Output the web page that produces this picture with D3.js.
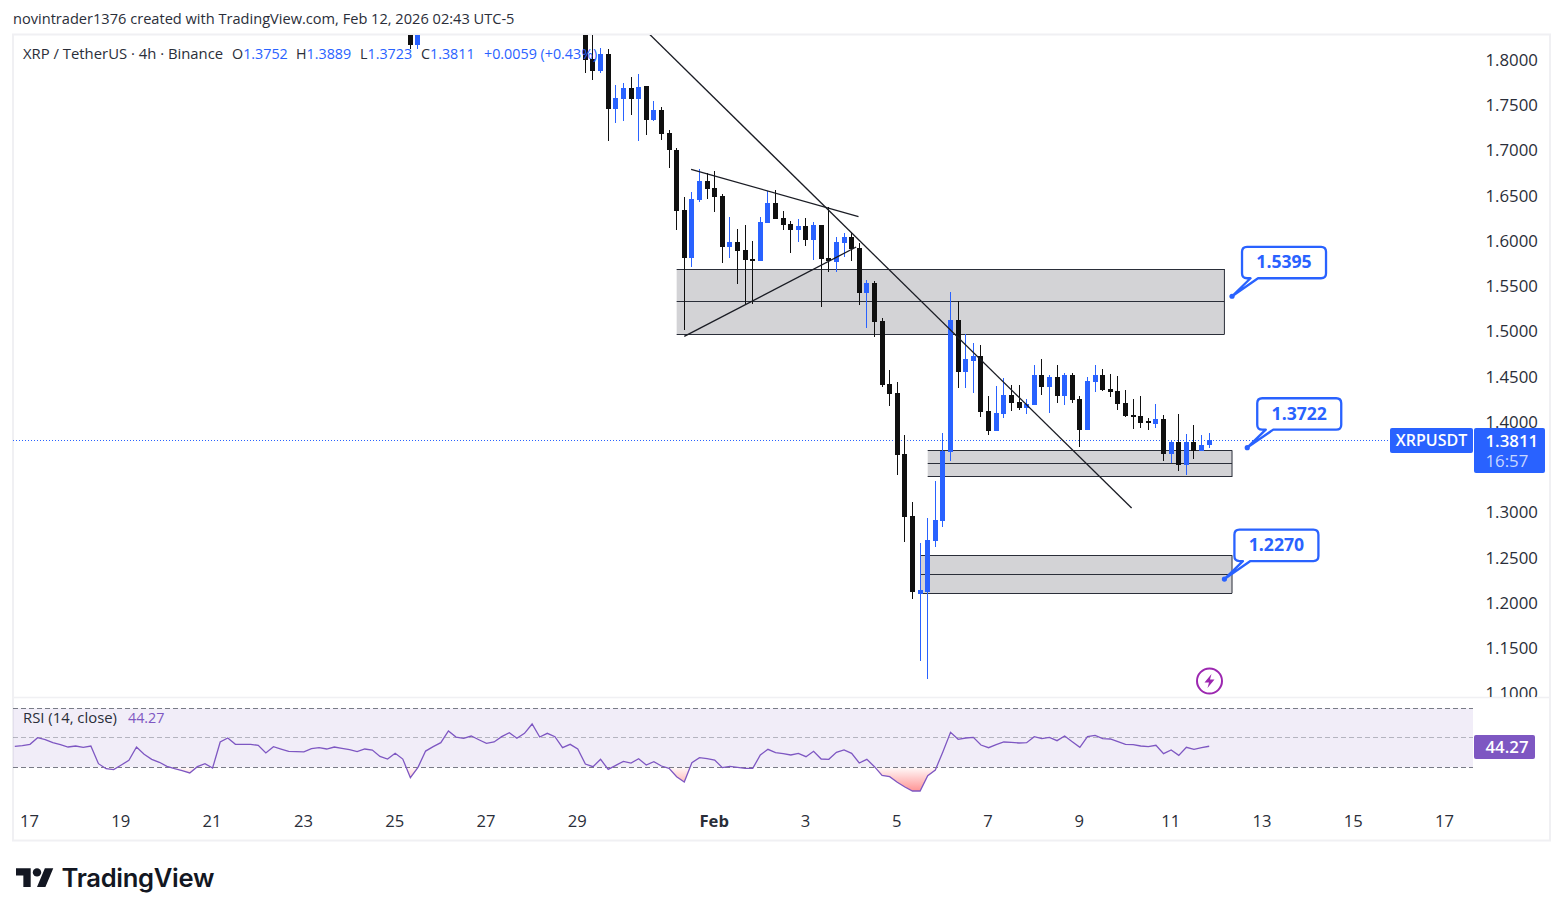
<!DOCTYPE html>
<html>
<head>
<meta charset="utf-8">
<title>XRPUSDT 4h</title>
<script src="https://cdnjs.cloudflare.com/ajax/libs/d3/7.9.0/d3.min.js"></script>
<style>
html,body{margin:0;padding:0;background:#fff;}
svg{display:block;}
text{font-family:"Open Sans","Noto Sans",sans-serif;}
</style>
</head>
<body>
<svg id="chart" width="1563" height="916"></svg>
<script>
// Bars are numbered in 4h steps from Jan 17 00:00; two short runs are on screen.
const barNumbers = [50, 51].concat(d3.range(73, 156));
const opens = [1.8450,1.8175,
1.8400,1.8017,1.7884,1.8072,1.7464,1.7575,1.7696,1.7575,1.7718,1.7343,1.7453,1.7199,1.7011,1.6348,1.5821,1.6459,1.6669,1.6591,1.6503,1.5939,1.5995,1.5906,1.5807,1.5785,1.6205,1.6425,1.6260,1.6193,1.6127,1.6171,1.6017,1.6182,1.5818,1.5774,1.5984,1.6050,1.5928,1.5431,1.5541,1.5121,1.4425,1.4326,1.3652,1.2967,1.2105,1.2127,1.2691,1.2912,1.3674,1.5133,1.4558,1.4680,1.4735,1.4127,1.3906,1.4094,1.4304,1.4226,1.4160,1.4193,1.4525,1.4392,1.4503,1.4293,1.4525,1.4260,1.3917,1.4448,1.4525,1.4370,1.4348,1.4215,1.4083,1.4072,1.4016,1.3983,1.4039,1.3652,1.3785,1.3530,1.3785,1.3685,1.3752];
const highs = [1.8500,1.8460,
1.8450,1.8350,1.8138,1.8127,1.7729,1.7751,1.7818,1.7851,1.7718,1.7552,1.7486,1.7232,1.7033,1.6492,1.6547,1.6801,1.6757,1.6779,1.6525,1.6271,1.6138,1.6182,1.6006,1.6271,1.6558,1.6569,1.6337,1.6226,1.6249,1.6260,1.6215,1.6182,1.6381,1.6050,1.6094,1.6105,1.5983,1.5575,1.5564,1.5155,1.4580,1.4448,1.3862,1.3122,1.2669,1.2945,1.3354,1.3884,1.5442,1.5343,1.4978,1.4878,1.4856,1.4293,1.4403,1.4492,1.4414,1.4414,1.4260,1.4635,1.4702,1.4525,1.4635,1.4547,1.4547,1.4293,1.4503,1.4635,1.4591,1.4536,1.4514,1.4359,1.4260,1.4293,1.4050,1.4205,1.4083,1.3807,1.4094,1.3873,1.3972,1.3862,1.3889];
const lows = [1.8127,1.8127,
1.7865,1.7785,1.7865,1.7114,1.7313,1.7335,1.7398,1.7114,1.7177,1.7331,1.7121,1.6812,1.6127,1.5022,1.5722,1.6440,1.6473,1.6326,1.5762,1.5818,1.5530,1.5309,1.5309,1.5785,1.6205,1.6248,1.6127,1.5873,1.5995,1.5950,1.5796,1.5276,1.5663,1.5663,1.5829,1.5785,1.5298,1.5044,1.4945,1.4392,1.4182,1.3420,1.2680,1.2050,1.1364,1.1166,1.2624,1.2845,1.3575,1.4381,1.4381,1.4326,1.4061,1.3862,1.3906,1.4050,1.4127,1.4138,1.4094,1.4193,1.4304,1.4105,1.4215,1.4193,1.4215,1.3729,1.3917,1.4337,1.4348,1.4282,1.4138,1.4061,1.3928,1.3939,1.3917,1.3939,1.3575,1.3553,1.3464,1.3420,1.3597,1.3685,1.3723];
const closes = [1.8175,1.8420,
1.8011,1.7884,1.8072,1.7464,1.7586,1.7696,1.7575,1.7707,1.7343,1.7453,1.7188,1.7011,1.6340,1.5821,1.6470,1.6669,1.6580,1.6492,1.5939,1.5995,1.5895,1.5796,1.5785,1.6216,1.6425,1.6248,1.6182,1.6127,1.6171,1.6017,1.6182,1.5807,1.5785,1.5995,1.6050,1.5917,1.5431,1.5541,1.5110,1.4414,1.4315,1.3641,1.2959,1.2127,1.2149,1.2702,1.2923,1.3685,1.5133,1.4558,1.4702,1.4735,1.4116,1.3906,1.4105,1.4304,1.4215,1.4160,1.4205,1.4525,1.4392,1.4503,1.4293,1.4525,1.4249,1.3917,1.4459,1.4525,1.4359,1.4337,1.4205,1.4072,1.4072,1.3994,1.4005,1.4039,1.3652,1.3785,1.3530,1.3785,1.3685,1.3752,1.3811];

// RSI(14) per bar, beginning two bars before Jan 17.
const rsiStartBar = -2;
const rsiValues = [
44.2,44.67,45.57,50.1,48.74,46.7,45.35,43.76,44.44,43.54,44.44,32.46,29.07,28.4,31.56,34.7,43.76,38.8,35.4,33.4,30.66,29.07,27.7,26.14,30.43,32.46,29.5,47.15,49.87,45.57,45.57,45.57,44.9,39.7,44,42.4,40.8,40.6,40.4,42.6,43.3,42.4,43.76,42.86,41.96,40.6,42.4,41.7,37.4,35.6,39.47,35.6,22.97,30,41,44,46.7,54.6,50.5,49.6,51.2,48.7,46.25,47.15,
50.77,53.48,49.64,53.03,59.36,50.54,53.03,50.77,43.3,45.57,42.4,32.24,30.43,35.4,28.62,31.33,34.05,32.9,35.85,31.56,33.82,30.88,29.3,23.65,20.03,33.14,36.53,35.85,34.95,29.75,30.66,29.98,29.3,29.3,38.34,42.18,39.92,39.24,38.34,39.47,37.21,40.83,35.63,35.4,40.15,41.73,39.47,32.9,35.4,30.43,24.55,23.65,19.81,16.64,13.93,13.93,24.33,28.17,40.6,53.7,48.96,49.87,50.32,45.12,43.3,45.35,
47.15,46.93,46.48,46.7,50.77,49.41,50.32,48.06,51.22,47.38,43.54,50.77,51.67,49.41,49.19,47.38,45.57,45.35,44.44,43.99,44.9,39.24,41.73,38.11,43.54,42.18,43.3,44.27];

const priceTicks = [1.8,1.75,1.7,1.65,1.6,1.55,1.5,1.45,1.4,1.35,1.3,1.25,1.2,1.15,1.1];
const dateTickBars = [0,12,24,36,48,60,72,90,102,114,126,138,150,162,174,186];
const dateTickLabels = ["17","19","21","23","25","27","29","Feb","3","5","7","9","11","13","15","17"];

// Supply and demand zones: left bar, right bar, upper price, middle price, lower price
const zoneLeft = [85, 118, 117];
const zoneRight = [157, 158, 158];
const zoneUpper = [1.5696, 1.3693, 1.2533];
const zoneMiddle = [1.5338, 1.3546, 1.2323];
const zoneLower = [1.4974, 1.3398, 1.2113];

// Trend lines drawn by hand on the chart, as bar / price pairs.
const trendBars = [[81.4, 144.8], [86.9, 108.9], [86, 108.6]];
const trendPrices = [[1.8293, 1.3055], [1.6798, 1.6274], [1.4952, 1.5939]];

// Price callouts.
const calloutBars = [158, 160, 157];
const calloutPrices = [1.5395, 1.3722, 1.2270];

const lastPrice = 1.3811;
const lastRsi = 44.27;

const BLUE = "#2962ff", BLACK = "#101010", PURPLE = "#7e57c2", FRAME = "#f0f0f3";
const INK = "#2a2e39";
const AXIS_FONT = '"Open Sans","Noto Sans",sans-serif';

const svg = d3.select("#chart");
const x = d3.scaleLinear().domain([0, 155]).range([30, 1209.2]);
const y = d3.scaleLinear().domain([1.8, 1.1]).range([60.5, 694]);
const yRsi = d3.scaleLinear().domain([70, 30]).range([708.3, 767.3]);

const defs = svg.append("defs");
defs.append("clipPath").attr("id", "mainClip").append("rect")
  .attr("x", 13).attr("y", 35).attr("width", 1460).attr("height", 662);
defs.append("clipPath").attr("id", "axisClip").append("rect")
  .attr("x", 1474).attr("y", 35).attr("width", 75).attr("height", 662);
defs.append("clipPath").attr("id", "rsiClip").append("rect")
  .attr("x", 13).attr("y", 698).attr("width", 1460).attr("height", 100);
defs.append("clipPath").attr("id", "oversoldClip").append("rect")
  .attr("x", 13).attr("y", yRsi(30)).attr("width", 1460).attr("height", 40);
const grad = defs.append("linearGradient").attr("id", "oversoldFill")
  .attr("gradientUnits", "userSpaceOnUse")
  .attr("x1", 0).attr("x2", 0).attr("y1", yRsi(30)).attr("y2", yRsi(13));
grad.append("stop").attr("offset", 0).attr("stop-color", "#ff5252").attr("stop-opacity", 0.03);
grad.append("stop").attr("offset", 1).attr("stop-color", "#ff5252").attr("stop-opacity", 0.65);

// Title line
svg.append("text").attr("x", 13).attr("y", 24).attr("font-size", 14.6)
  .attr("fill", INK).text("novintrader1376 created with TradingView.com, Feb 12, 2026 02:43 UTC-5");

// Outer frame and pane divider
svg.append("rect").attr("x", 13).attr("y", 34.5).attr("width", 1537).attr("height", 806)
  .attr("fill", "none").attr("stroke", FRAME).attr("stroke-width", 2);
svg.append("line").attr("x1", 13).attr("x2", 1550).attr("y1", 697.5).attr("y2", 697.5)
  .attr("stroke", FRAME).attr("stroke-width", 1.5);

const main = svg.append("g").attr("clip-path", "url(#mainClip)");

// Zones
const zones = main.append("g").selectAll("g").data(zoneLeft.map((_, i) => i)).join("g");
zones.append("rect")
  .attr("x", i => x(zoneLeft[i]))
  .attr("y", i => y(zoneUpper[i]))
  .attr("width", i => x(zoneRight[i]) - x(zoneLeft[i]))
  .attr("height", i => y(zoneLower[i]) - y(zoneUpper[i]))
  .attr("fill", "#d3d3d6");
const zoneLine = (sel, a) => sel.append("line")
  .attr("x1", i => x(zoneLeft[i])).attr("x2", i => x(zoneRight[i]))
  .attr("y1", i => Math.floor(y(a[i])) + 0.5).attr("y2", i => Math.floor(y(a[i])) + 0.5)
  .attr("stroke", INK).attr("stroke-width", 1);
zoneLine(zones, zoneUpper);
zoneLine(zones, zoneMiddle);
zoneLine(zones, zoneLower);
zones.append("line")
  .attr("x1", i => x(zoneRight[i])).attr("x2", i => x(zoneRight[i]))
  .attr("y1", i => y(zoneUpper[i])).attr("y2", i => y(zoneLower[i]))
  .attr("stroke", INK).attr("stroke-width", 1);

// Dotted last price line
main.append("line").attr("x1", 13).attr("x2", 1390)
  .attr("y1", Math.round(y(lastPrice)) + 0.5).attr("y2", Math.round(y(lastPrice)) + 0.5)
  .attr("stroke", BLUE).attr("stroke-width", 1).attr("stroke-dasharray", "1,2");

// Candles
const candles = main.append("g").attr("shape-rendering", "crispEdges")
  .selectAll("g").data(barNumbers.map((_, i) => i)).join("g")
  .attr("fill", i => closes[i] >= opens[i] ? BLUE : BLACK);
candles.append("rect")
  .attr("x", i => Math.floor(x(barNumbers[i])))
  .attr("width", 1)
  .attr("y", i => y(highs[i]))
  .attr("height", i => y(lows[i]) - y(highs[i]));
candles.append("rect")
  .attr("x", i => Math.floor(x(barNumbers[i])) - 2)
  .attr("width", 5)
  .attr("y", i => Math.round(y(Math.max(opens[i], closes[i]))))
  .attr("height", i => Math.max(2, Math.round(y(Math.min(opens[i], closes[i]))) - Math.round(y(Math.max(opens[i], closes[i])))));

// Trend lines
main.append("g").selectAll("line").data(trendBars.map((_, i) => i)).join("line")
  .attr("x1", i => x(trendBars[i][0])).attr("x2", i => x(trendBars[i][1]))
  .attr("y1", i => y(trendPrices[i][0])).attr("y2", i => y(trendPrices[i][1]))
  .attr("stroke", "#1a1c24").attr("stroke-width", 1.3);

// Legend over the main pane
svg.append("text").attr("x", 23).attr("y", 59).attr("font-size", 14.85).attr("fill", INK)
  .text("XRP / TetherUS · 4h · Binance");
const legendParts = [["O", "1.3752", 232], ["H", "1.3889", 296], ["L", "1.3723", 360], ["C", "1.3811", 421]];
legendParts.forEach(([k, v, px]) => {
  const t = svg.append("text").attr("x", px).attr("y", 59).attr("font-size", 14.3).attr("fill", INK);
  t.append("tspan").text(k);
  t.append("tspan").attr("fill", BLUE).text(v);
});
svg.append("text").attr("x", 484).attr("y", 59).attr("font-size", 14.3).attr("fill", BLUE)
  .text("+0.0059 (+0.43%)");

// Callouts anchored at their price
const boxDx = 10, boxDy = -49.4, boxW = 84, boxH = 31.4, tailA = 8.5, tailB = 16, boxR = 5;
const callouts = svg.append("g").selectAll("g").data(calloutBars.map((_, i) => i)).join("g")
  .attr("transform", i => `translate(${x(calloutBars[i])},${y(calloutPrices[i])})`);
callouts.append("path")
  .attr("d", () => {
    const l = boxDx, t = boxDy, rr = boxDx + boxW, bt = boxDy + boxH, r = boxR;
    return `M${l + r},${t}H${rr - r}Q${rr},${t} ${rr},${t + r}V${bt - r}Q${rr},${bt} ${rr - r},${bt}` +
      `H${l + tailB}L0,0L${l + tailA},${bt}H${l + r}Q${l},${bt} ${l},${bt - r}V${t + r}Q${l},${t} ${l + r},${t}Z`;
  })
  .attr("fill", "#fff").attr("stroke", BLUE).attr("stroke-width", 2.3).attr("stroke-linejoin", "round");
callouts.append("circle").attr("r", 2.6).attr("fill", BLUE);
callouts.append("text")
  .attr("x", boxDx + boxW / 2)
  .attr("y", boxDy + 21.6)
  .attr("text-anchor", "middle").attr("font-size", 17.6).attr("font-weight", 700)
  .attr("fill", BLUE).text(i => calloutPrices[i].toFixed(4));

// Price axis
const priceAxis = svg.append("g").attr("clip-path", "url(#axisClip)").append("g")
  .attr("transform", "translate(1485.5,-0.5)")
  .call(d3.axisRight(y).tickValues(priceTicks).tickFormat(d3.format(".4f")).tickSize(0).tickPadding(0));
priceAxis.select(".domain").remove();
priceAxis.selectAll("text").attr("font-size", 16.8).attr("fill", INK)
  .style("font-family", AXIS_FONT);

// Last price tags
svg.append("rect").attr("x", 1390).attr("y", 428).attr("width", 83).attr("height", 25)
  .attr("rx", 2).attr("fill", BLUE);
svg.append("text").attr("x", 1431.5).attr("y", 446).attr("text-anchor", "middle")
  .attr("font-size", 16).attr("font-weight", 600).attr("fill", "#fff").text("XRPUSDT");
svg.append("rect").attr("x", 1474).attr("y", 428).attr("width", 71).attr("height", 45)
  .attr("rx", 2).attr("fill", BLUE);
svg.append("text").attr("x", 1485.5).attr("y", 446.5).attr("font-size", 16.8)
  .attr("font-weight", 600).attr("fill", "#fff").text(lastPrice.toFixed(4));
svg.append("text").attr("x", 1485.5).attr("y", 466.5).attr("font-size", 16.8)
  .attr("fill", "#fff").attr("fill-opacity", 0.75).text("16:57");

// Bolt badge
const bolt = svg.append("g").attr("transform", "translate(1209.5,681)");
bolt.append("circle").attr("r", 12.5).attr("fill", "#fff").attr("stroke", "#9c27b0").attr("stroke-width", 2);
bolt.append("path").attr("d", "M2,-7L-5,1.5H-0.5L-2,7L5,-1.5H0.5Z").attr("fill", "#9c27b0");

// RSI pane
const rsiPane = svg.append("g");
rsiPane.append("rect").attr("x", 13).attr("width", 1460)
  .attr("y", yRsi(70)).attr("height", yRsi(30) - yRsi(70)).attr("fill", PURPLE).attr("fill-opacity", 0.11);
[[70, 1], [50, 0.5], [30, 1]].forEach(([v, o]) => {
  rsiPane.append("line").attr("x1", 13).attr("x2", 1473)
    .attr("y1", Math.floor(yRsi(v)) + 0.5).attr("y2", Math.floor(yRsi(v)) + 0.5)
    .attr("stroke", "#787b86").attr("stroke-opacity", o).attr("stroke-width", 1).attr("stroke-dasharray", "5,3");
});
const rsiBar = i => rsiStartBar + i;
const oversoldArea = d3.area()
  .x((d, i) => x(rsiBar(i))).y0(yRsi(30)).y1(d => yRsi(d));
rsiPane.append("path").datum(rsiValues).attr("d", oversoldArea)
  .attr("fill", "url(#oversoldFill)").attr("clip-path", "url(#oversoldClip)");
const rsiLine = d3.line().x((d, i) => x(rsiBar(i))).y(d => yRsi(d));
rsiPane.append("g").attr("clip-path", "url(#rsiClip)").append("path").datum(rsiValues).attr("d", rsiLine)
  .attr("fill", "none").attr("stroke", PURPLE).attr("stroke-width", 1.3);

svg.append("text").attr("x", 23).attr("y", 723).attr("font-size", 14.85).attr("fill", INK)
  .text("RSI (14, close)");
svg.append("text").attr("x", 128).attr("y", 723).attr("font-size", 14.3).attr("fill", PURPLE)
  .text(lastRsi.toFixed(2));

svg.append("rect").attr("x", 1474).attr("y", 735).attr("width", 61).attr("height", 24)
  .attr("rx", 2).attr("fill", PURPLE);
svg.append("text").attr("x", 1485.5).attr("y", 752.5).attr("font-size", 16.8).attr("font-weight", 600)
  .attr("fill", "#fff").text(lastRsi.toFixed(2));

// Date axis
const dateAxis = svg.append("g").attr("transform", "translate(-1,815)")
  .call(d3.axisBottom(x).tickValues(dateTickBars)
    .tickFormat((d, i) => dateTickLabels[i]).tickSize(0).tickPadding(0));
dateAxis.select(".domain").remove();
dateAxis.selectAll("text").attr("font-size", 16.6).attr("fill", INK)
  .attr("dy", 12)
  .attr("font-weight", (d, i) => dateTickLabels[i] === "Feb" ? 700 : 400)
  .style("font-family", AXIS_FONT);

// Wordmark
const logo = svg.append("g").attr("transform", "translate(16,864) scale(1.05)").attr("fill", "#131722");
logo.append("path").attr("d", "M14 22H7V11H0V4h14v18zM28 22h-8l7.5-18h8L28 22z");
logo.append("circle").attr("cx", 20).attr("cy", 8).attr("r", 4);
svg.append("text").attr("x", 61.5).attr("y", 887).attr("font-size", 25.6).attr("font-weight", 600)
  .attr("fill", "#131722").style("font-family", "Inter,sans-serif").attr("letter-spacing", -0.3).text("TradingView");
</script>
</body>
</html>
